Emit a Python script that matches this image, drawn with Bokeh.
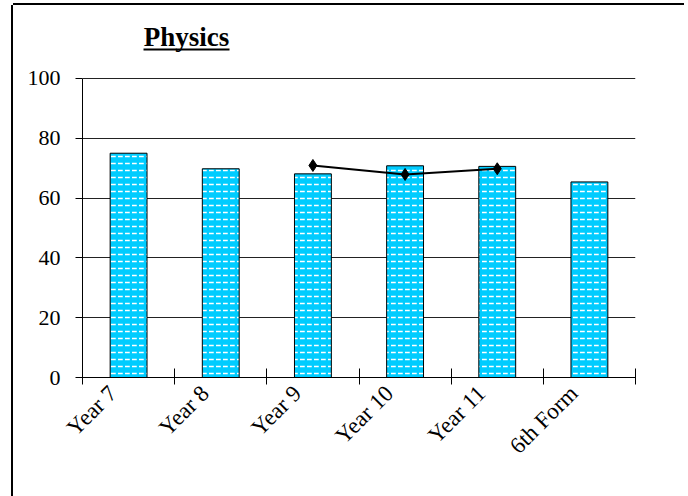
from bokeh.plotting import figure
from bokeh.models import Range1d, FixedTicker, Label, ColumnDataSource
from bokeh.embed import file_html
from bokeh.resources import INLINE
import math

# ---- data ----
categories = ["Year 7", "Year 8", "Year 9", "Year 10", "Year 11", "6th Form"]
bar_values = [75.0, 69.8, 68.1, 70.8, 70.6, 65.4]
line_categories = ["Year 9", "Year 10", "Year 11"]
line_values = [70.9, 67.9, 69.8]
y_ticks = [0, 20, 40, 60, 80, 100]
title_text = "Physics"

# ---- positions derived from categories ----
idx = {c: i + 0.5 for i, c in enumerate(categories)}
bar_x = [idx[c] for c in categories]
line_x = [idx[c] for c in line_categories]
LABEL_SHIFT = 0.17  # rotated labels end a little left of the bar centre
label_x = [x - LABEL_SHIFT for x in bar_x]

FONT = "Liberation Serif"

p = figure(width=675, height=491, output_backend="svg", toolbar_location=None,
           x_range=Range1d(0, len(categories)), y_range=Range1d(0, 124.4),
           min_border_left=69, min_border_right=53, min_border_top=0,
           min_border_bottom=119, margin=(5, 0, 0, 13),
           styles={"box-shadow": "-2px 0 0 0 black, 0 -2px 0 0 black",
                   "clip-path": "inset(-4px 4px 0px -4px)"})
p.outline_line_color = None
p.background_fill_color = "white"
p.border_fill_color = "white"

src = ColumnDataSource(dict(x=bar_x, top=bar_values))
p.vbar(x="x", top="top", bottom=0, width=0.4, source=src,
       fill_color="#00CCFF", line_color="black", line_width=1,
       hatch_pattern="horizontal_dash", hatch_color="white", hatch_scale=7,
       hatch_weight=1.5)

lsrc = ColumnDataSource(dict(x=line_x, y=line_values))
p.line(x="x", y="y", source=lsrc, line_color="black", line_width=2)
p.scatter(x="x", y="y", source=lsrc, marker="diamond", size=12,
          fill_color="black", line_color="black")

# grid
p.xgrid.visible = False
p.ygrid.ticker = FixedTicker(ticks=y_ticks)
p.ygrid.grid_line_color = "#222222"
p.ygrid.grid_line_width = 1
p.ygrid.bounds = (0, 100)

# y axis
ya = p.yaxis[0]
ya.ticker = FixedTicker(ticks=y_ticks)
ya.bounds = (0, 100)
ya.axis_line_color = "black"
ya.major_tick_line_color = "black"
ya.major_tick_out = 7
ya.major_tick_in = 0
ya.minor_tick_line_color = None
ya.major_label_text_font = FONT
ya.major_label_text_font_size = "22px"
ya.major_label_text_color = "black"
ya.major_label_standoff = 15

# x axis
xa = p.xaxis[0]
xa.ticker = FixedTicker(ticks=label_x, minor_ticks=list(range(len(categories) + 1)))
xa.major_label_overrides = {x: c for x, c in zip(label_x, categories)}
xa.axis_line_color = "black"
xa.major_tick_out = 0
xa.major_tick_in = 0
xa.minor_tick_line_color = "black"
xa.minor_tick_out = 7
xa.minor_tick_in = 9
xa.major_label_orientation = math.pi / 4
xa.major_label_text_font = FONT
xa.major_label_text_font_size = "23px"
xa.major_label_text_color = "black"
xa.major_label_standoff = 5

# title with underline
p.add_layout(Label(x=1.128, y=114.0, text=title_text, text_align="center",
                   text_baseline="alphabetic", text_font=FONT,
                   text_font_size="27px", text_font_style="bold", text_color="black"))
p.line(x=[0.662, 1.595], y=[109.7, 109.7], line_color="black", line_width=2)

open("out.html", "w").write(file_html(p, INLINE))
